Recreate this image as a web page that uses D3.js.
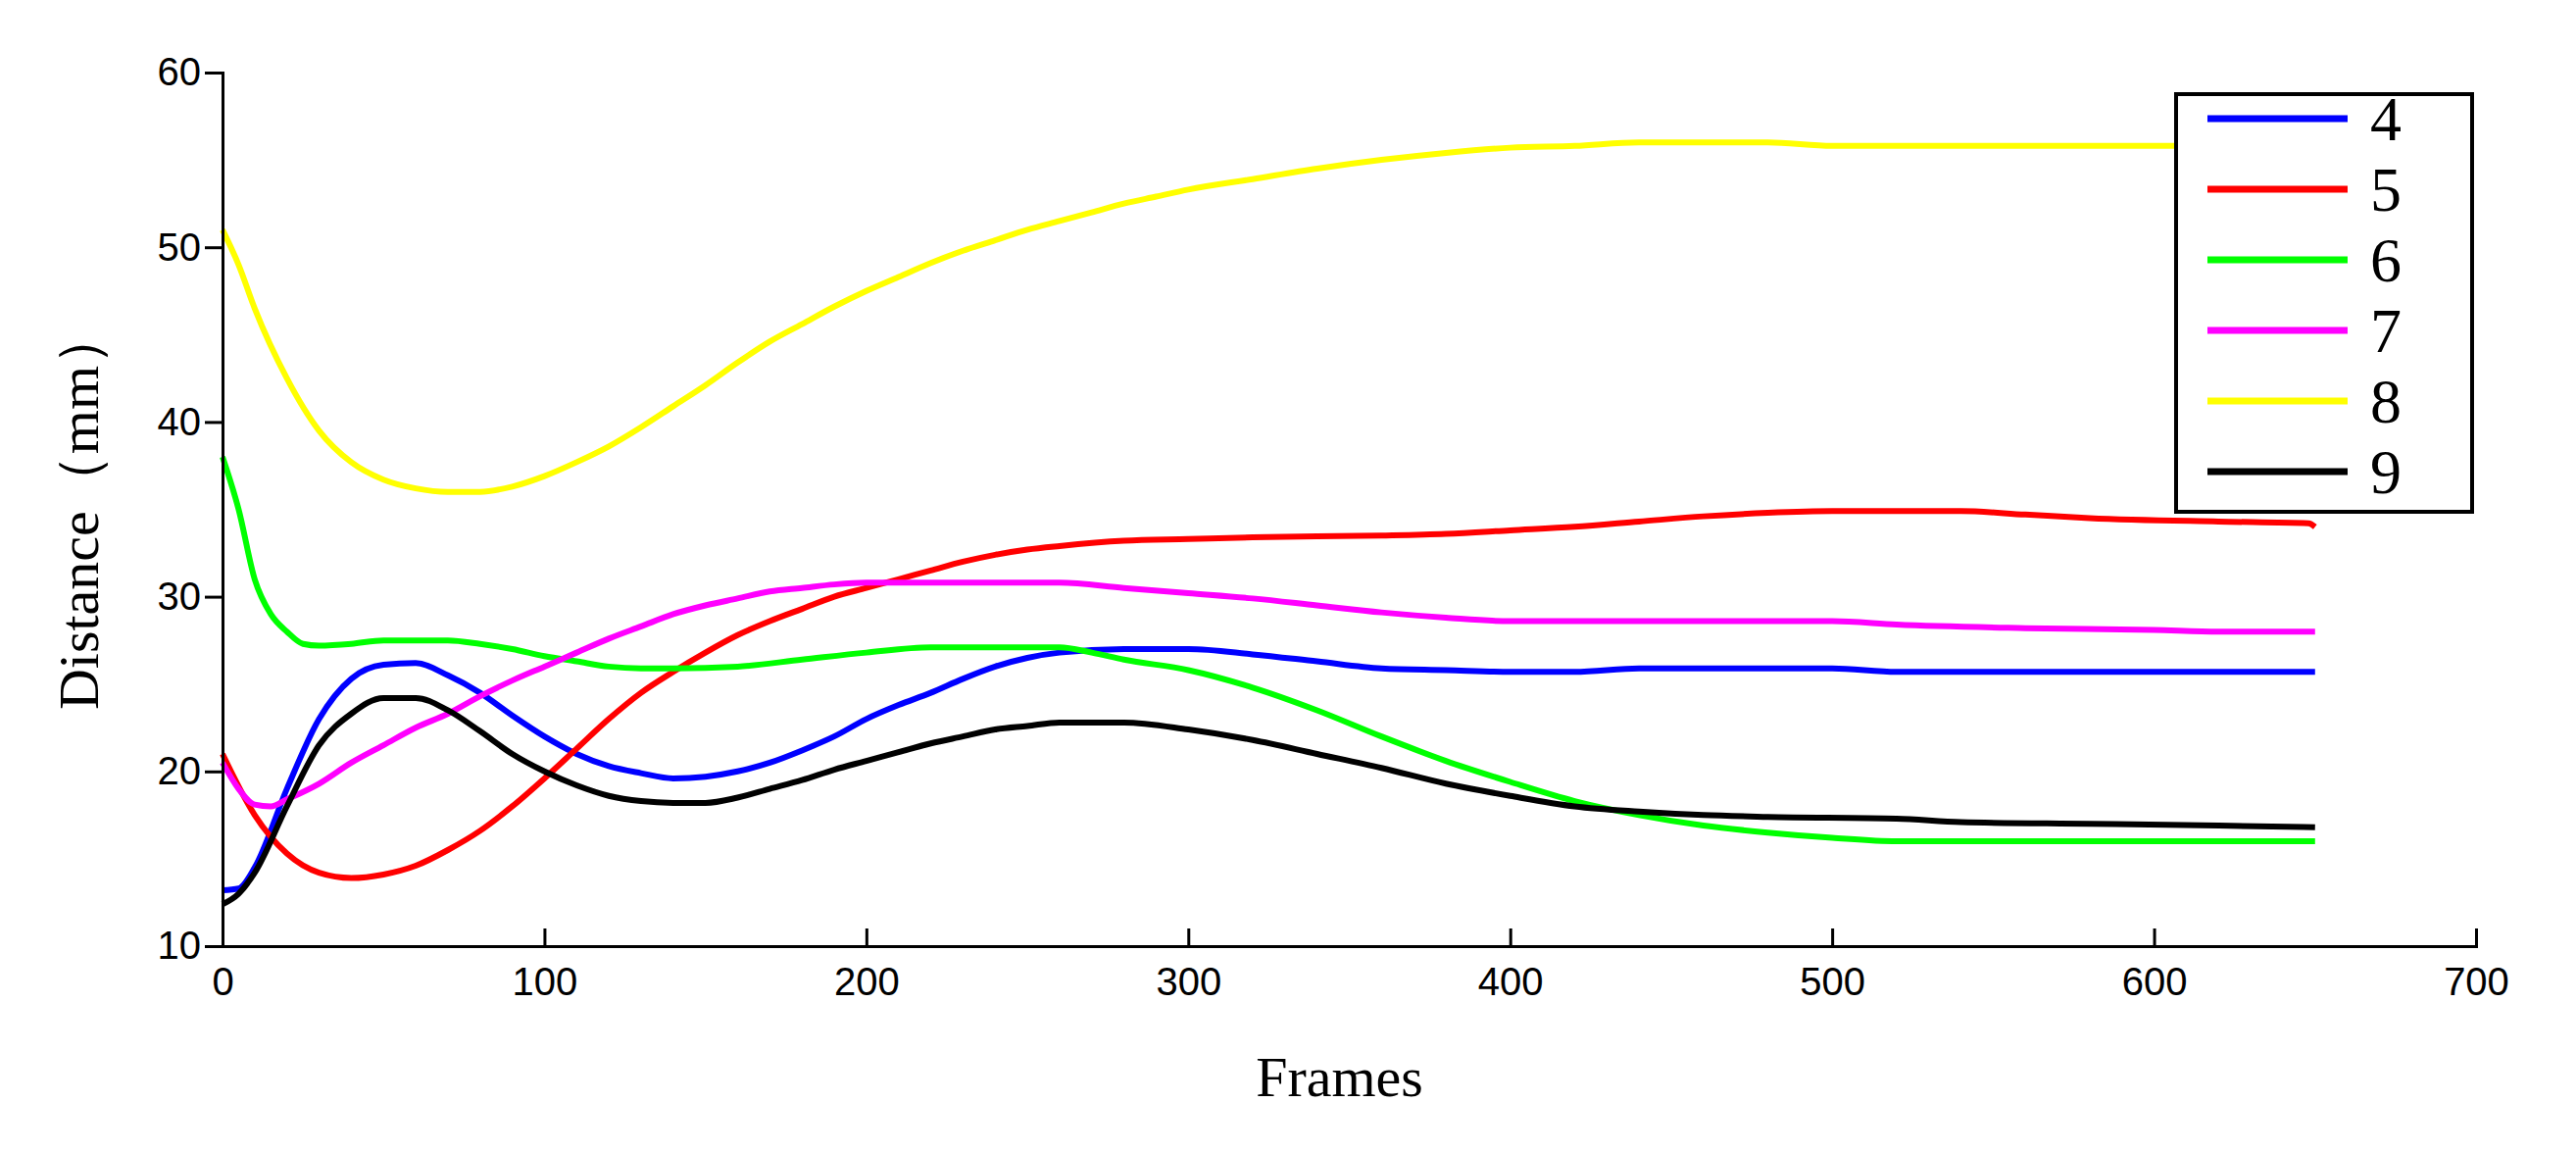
<!DOCTYPE html>
<html><head><meta charset="utf-8">
<script src="https://cdn.jsdelivr.net/npm/d3@7"></script>
<style>body{margin:0;background:#fff}</style></head>
<body><svg id="c" width="2628" height="1176"></svg>
<script>
const names = ['4', '5', '6', '7', '8', '9'];
const colors = ['#0000ff', '#ff0000', '#00ff00', '#ff00ff', '#ffff00', '#000000'];
const xTicks = [0, 100, 200, 300, 400, 500, 600, 700];
const yTicks = [10, 20, 30, 40, 50, 60];

const s4 = [[0,13.2],[5,13.3],[10,14.5],[20,19],[30,23],[40,25.3],[50,26.1],[60,26.2],[70,25.5],[80,24.5],[90,23.2],[100,22],[110,21],[120,20.3],[130,19.9],[140,19.6],[150,19.7],[160,20],[170,20.5],[180,21.2],[190,22],[200,23],[210,23.8],[220,24.5],[230,25.3],[240,26],[250,26.5],[260,26.8],[280,27],[300,27],[320,26.7],[340,26.3],[360,25.9],[380,25.8],[400,25.7],[420,25.7],[440,25.9],[500,25.9],[520,25.7],[650,25.7]];
const s5 = [[0,21],[10,17.5],[20,15.3],[30,14.2],[40,13.9],[50,14.1],[60,14.6],[70,15.5],[80,16.6],[90,18],[100,19.6],[110,21.3],[120,23],[130,24.5],[140,25.7],[150,26.8],[160,27.8],[170,28.6],[180,29.3],[190,30],[200,30.5],[210,31],[220,31.5],[230,32],[240,32.4],[250,32.7],[260,32.9],[280,33.2],[300,33.3],[320,33.4],[360,33.5],[380,33.6],[400,33.8],[420,34],[440,34.3],[460,34.6],[480,34.8],[500,34.9],[540,34.9],[560,34.7],[580,34.5],[620,34.3],[648,34.2],[650,34]];
const s6 = [[0,38],[5,35],[10,31],[15,29],[20,28],[25,27.3],[30,27.2],[40,27.3],[50,27.5],[70,27.5],[80,27.3],[90,27],[100,26.6],[110,26.3],[120,26],[130,25.9],[140,25.9],[160,26],[180,26.4],[200,26.8],[220,27.1],[260,27.1],[270,26.8],[280,26.4],[300,25.8],[320,24.8],[340,23.5],[360,22],[380,20.6],[400,19.4],[420,18.3],[440,17.5],[460,16.9],[480,16.5],[500,16.2],[520,16],[650,16]];
const s7 = [[0,20.5],[5,19],[10,18.1],[15,18],[20,18.4],[30,19.3],[40,20.5],[50,21.5],[60,22.5],[70,23.3],[80,24.3],[90,25.2],[100,26],[110,26.8],[120,27.6],[130,28.3],[140,29],[150,29.5],[160,29.9],[170,30.3],[180,30.5],[190,30.7],[200,30.8],[260,30.8],[280,30.5],[300,30.2],[320,29.9],[340,29.5],[360,29.1],[380,28.8],[400,28.6],[500,28.6],[520,28.4],[560,28.2],[600,28.1],[620,28],[650,28]];
const s8 = [[0,51],[5,49],[10,46.5],[20,42.5],[30,39.5],[40,37.7],[50,36.7],[60,36.2],[70,36],[80,36],[90,36.3],[100,36.9],[110,37.7],[120,38.6],[130,39.7],[140,40.9],[150,42.1],[160,43.4],[170,44.6],[180,45.6],[190,46.6],[200,47.5],[210,48.3],[220,49.1],[230,49.8],[240,50.4],[250,51],[260,51.5],[270,52],[280,52.5],[290,52.9],[300,53.3],[320,53.9],[340,54.5],[360,55],[380,55.4],[400,55.7],[420,55.8],[440,56],[480,56],[500,55.8],[650,55.8]];
const s9 = [[0,12.4],[5,13],[10,14.2],[20,18],[30,21.5],[40,23.3],[50,24.2],[60,24.2],[70,23.5],[80,22.3],[90,21],[100,20],[110,19.2],[120,18.6],[130,18.3],[140,18.2],[150,18.2],[160,18.5],[170,19],[180,19.5],[190,20.1],[200,20.6],[210,21.1],[220,21.6],[230,22],[240,22.4],[250,22.6],[260,22.8],[280,22.8],[300,22.4],[320,21.8],[340,21],[360,20.2],[380,19.3],[400,18.6],[420,18],[440,17.7],[460,17.5],[480,17.4],[520,17.3],[540,17.1],[580,17],[620,16.9],[650,16.8]];
const series = [s4, s5, s6, s7, s8, s9];

const svg = d3.select('#c');
const L = 227, R = 2526, T = 74, B = 965;
const x = d3.scaleLinear().domain([0, 700]).range([L, R]);
const y = d3.scaleLinear().domain([10, 60]).range([B, T]);

const line = d3.line().x(d => x(d[0])).y(d => y(d[1])).curve(d3.curveMonotoneX);
series.forEach((s, i) => {
	svg.append('path').attr('d', line(s)).attr('fill', 'none')
		.attr('stroke', colors[i]).attr('stroke-width', 6);
});

const ax = svg.append('g').attr('transform', `translate(0,${B})`)
	.call(d3.axisBottom(x).tickValues(xTicks).tickSize(-18).tickPadding(22));
const ay = svg.append('g').attr('transform', `translate(${L},0)`)
	.call(d3.axisLeft(y).tickValues(yTicks).tickSize(18).tickPadding(4));
[ax, ay].forEach(a => {
	a.selectAll('path,line').attr('stroke', '#000').attr('stroke-width', 3);
	a.selectAll('text').attr('font-family', 'Liberation Sans, Arial').attr('font-size', 40).attr('fill', '#000');
});

svg.append('text').attr('x', (L + R) / 2 - 10).attr('y', 1118).attr('text-anchor', 'middle')
	.attr('font-family', 'Liberation Serif').attr('font-size', 58).text('Frames');
svg.append('text').attr('transform', `translate(100,${(T + B) / 2}) rotate(-90)`).attr('text-anchor', 'middle')
	.attr('font-family', 'Liberation Serif').attr('font-size', 58).text('Distance（mm）');

const lg = svg.append('g');
lg.append('rect').attr('x', 2220).attr('y', 96).attr('width', 302).attr('height', 426)
	.attr('fill', '#fff').attr('stroke', '#000').attr('stroke-width', 4);
names.forEach((n, i) => {
	const yy = 121 + i * 72;
	lg.append('line').attr('x1', 2252).attr('x2', 2395).attr('y1', yy).attr('y2', yy)
		.attr('stroke', colors[i]).attr('stroke-width', 7);
	lg.append('text').attr('x', 2418).attr('y', yy + 22).attr('font-family', 'Liberation Serif')
		.attr('font-size', 64).text(n);
});
</script></body></html>
